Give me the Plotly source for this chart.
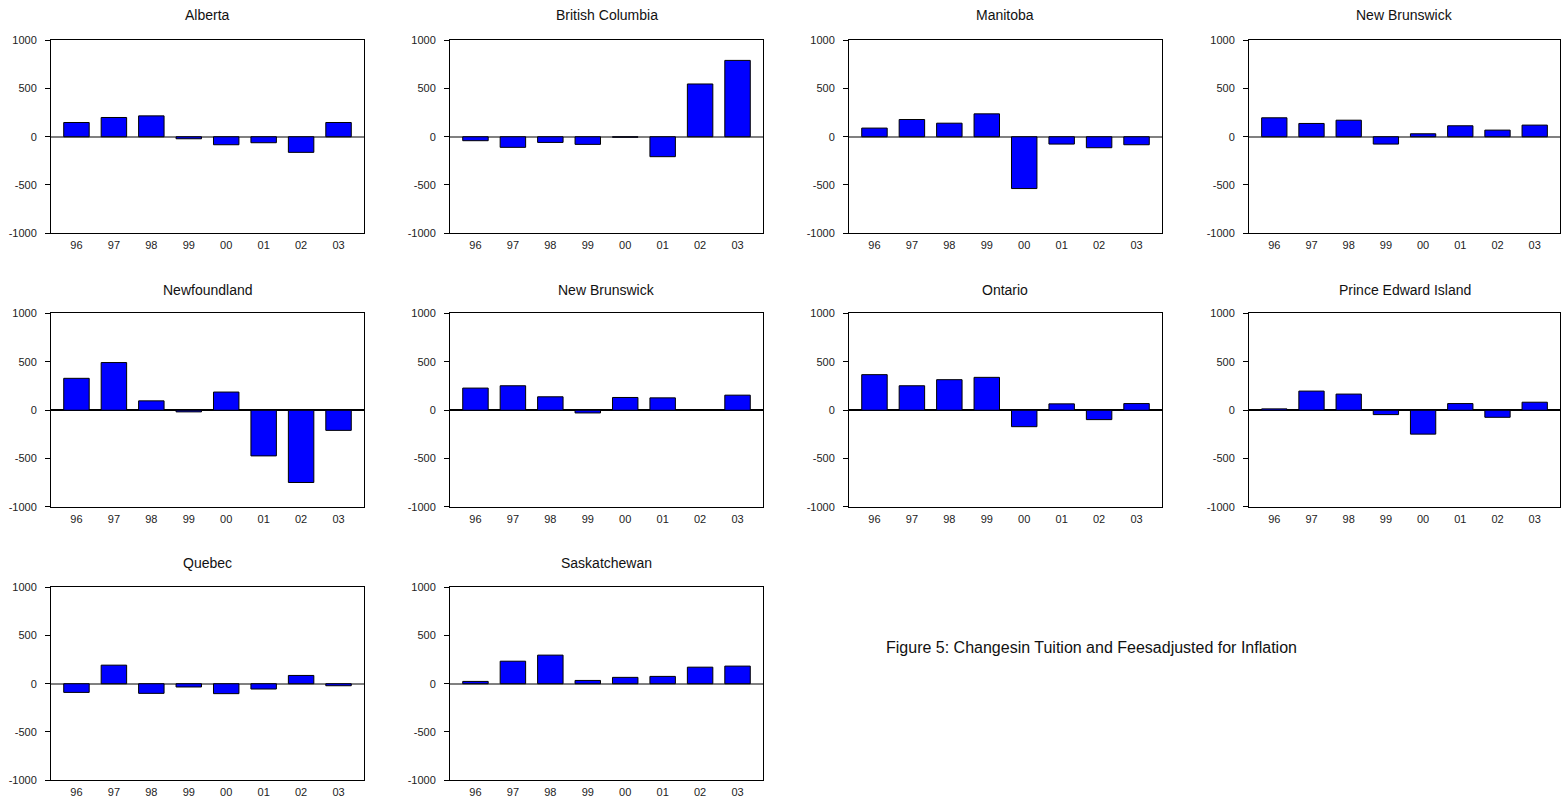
import plotly.graph_objects as go

years = ["96", "97", "98", "99", "00", "01", "02", "03"]

provinces = ["Alberta", "British Columbia", "Manitoba", "New Brunswick",
             "Newfoundland", "New Brunswick", "Ontario", "Prince Edward Island",
             "Quebec", "Saskatchewan"]

alberta = [148, 200, 217, -21, -83, -62, -162, 148]
british_columbia = [-41, -110, -59, -79, -5, -207, 548, 793]
manitoba = [90, 179, 141, 238, -538, -76, -114, -83]
new_brunswick_a = [197, 138, 172, -76, 31, 114, 69, 121]
newfoundland = [330, 493, 97, -17, 188, -472, -747, -208]
new_brunswick_b = [229, 253, 139, -28, 132, 128, 0, 156]
ontario = [368, 253, 316, 340, -170, 66, -97, 69]
prince_edward_island = [14, 198, 167, -45, -247, 69, -73, 83]
quebec = [-90, 193, -100, -34, -103, -55, 86, -21]
saskatchewan = [24, 234, 297, 34, 66, 76, 172, 183]

series = [alberta, british_columbia, manitoba, new_brunswick_a, newfoundland,
          new_brunswick_b, ontario, prince_edward_island, quebec, saskatchewan]

y_ticks = [-1000, -500, 0, 500, 1000]
y_tick_labels = ["-1000", "-500", "0", "500", "1000"]

W, H = 1562, 800
col_px = [(51, 364), (450, 763), (849, 1162), (1249, 1560)]
row_px = [(34.5, 230.5), (311.7, 508.6), (589.8, 785.8)]
title_px = [9.5, 288.3, 565.5]
zero_colors = ["#808080", "#000000", "#808080"]
zero_widths = [2, 1.5, 2]

fig = go.Figure()
font = "Liberation Sans, Arial, sans-serif"

for i, (name, vals) in enumerate(zip(provinces, series)):
    r, c = divmod(i, 4)
    k = "" if i == 0 else str(i + 1)
    fig.add_trace(go.Bar(
        x=years, y=vals, xaxis="x" + k, yaxis="y" + k,
        width=0.68,
        marker=dict(color="#0000FF", line=dict(color="#000000", width=1)),
        showlegend=False, hoverinfo="x+y",
    ))
    x0, x1 = col_px[c]
    y0, y1 = row_px[r]
    fig.layout["xaxis" + k] = dict(
        domain=[x0 / W, x1 / W], anchor="y" + k, type="category",
        range=[-0.68, 7.68], showline=True, linecolor="#000000", linewidth=1,
        mirror=True, ticks="", showgrid=False, zeroline=False,
        ticklabelstandoff=2,
        tickfont=dict(family=font, size=11, color="#222222"),
        fixedrange=True,
    )
    fig.layout["yaxis" + k] = dict(
        domain=[1 - y1 / H, 1 - y0 / H], anchor="x" + k,
        range=[-1000, 1005], tickmode="array",
        tickvals=y_ticks, ticktext=y_tick_labels,
        showline=True, linecolor="#000000", linewidth=1, mirror=True,
        ticks="outside", ticklen=5, tickcolor="#000000", showgrid=False,
        ticklabelstandoff=6,
        zeroline=True, zerolinecolor=zero_colors[r], zerolinewidth=zero_widths[r],
        tickfont=dict(family=font, size=11, color="#222222"),
        fixedrange=True,
    )
    fig.add_annotation(
        text=name, x=(x0 + x1) / 2 / W, y=1 - title_px[r] / H,
        xref="paper", yref="paper", showarrow=False,
        xanchor="center", yanchor="middle",
        font=dict(family=font, size=14, color="#111111"),
    )

fig.add_annotation(
    text="Figure 5: Changesin Tuition and Feesadjusted for Inflation",
    x=1091 / W, y=1 - 651 / H, xref="paper", yref="paper", showarrow=False,
    xanchor="center", yanchor="middle",
    font=dict(family=font, size=16, color="#111111"),
)

fig.update_layout(
    width=W, height=H, margin=dict(l=0, r=0, t=0, b=0),
    paper_bgcolor="#FFFFFF", plot_bgcolor="#FFFFFF",
    bargap=0.32,
)

css_fix = (
    "var s=document.createElement('style');"
    "s.textContent='html,body{margin:0;padding:0;overflow:hidden;height:800px;width:1562px;}';"
    "document.head.appendChild(s);"
)

fig.write_html(
    "out.html",
    config={"displayModeBar": False},
    post_script=css_fix,
)
